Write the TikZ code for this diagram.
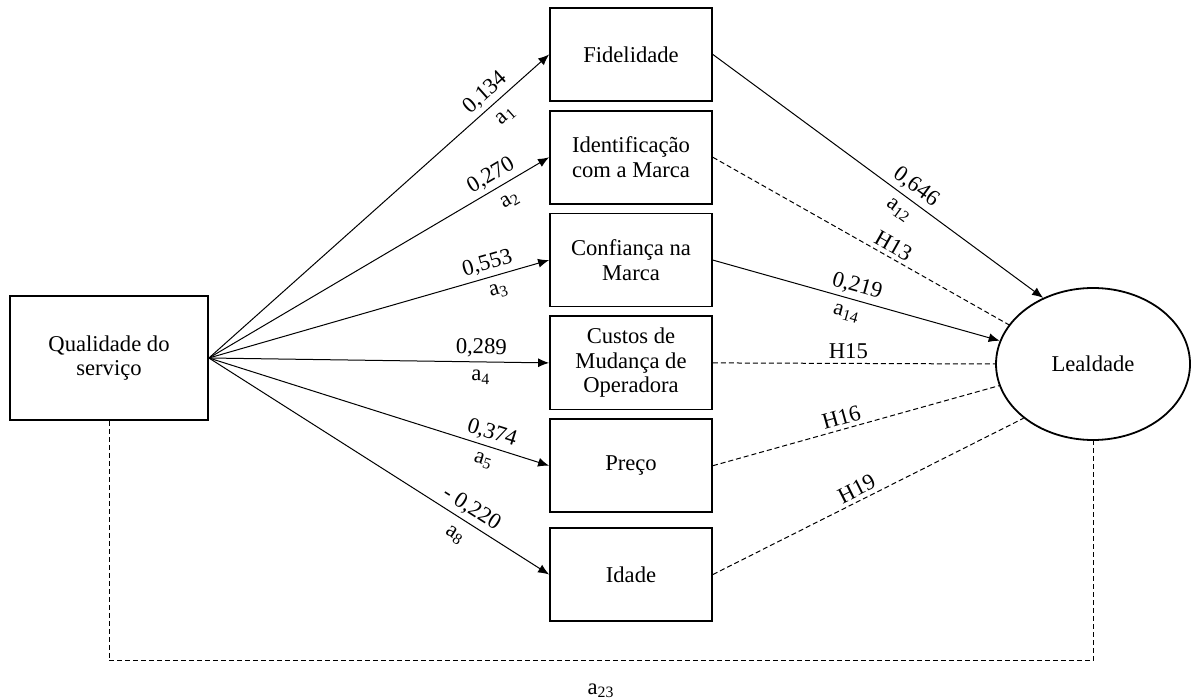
\documentclass[tikz,border=0pt]{standalone}
\usepackage{fontspec}
\setmainfont{Liberation Serif}
\usetikzlibrary{arrows.meta, positioning, shapes.geometric}

\begin{document}
\begin{tikzpicture}[x=0.5pt, y=-0.5pt, node distance={4pt},
		font=\fontsize{11.3}{12.2}\selectfont,
		var/.style = {draw, line width=0.9pt, minimum width=81pt, minimum height=46.5pt, align=center, inner sep=2pt},
		eff/.style = {-{Latex[length=5.5pt, width=4.5pt]}, line width=0.5pt},
		hyp/.style = {dash pattern=on 2.5pt off 1.5pt, line width=0.5pt},
		lab/.style = {sloped, inner sep=1pt}]
		\useasboundingbox (0,0) rectangle (1202,699);
		\node[var, minimum width=99pt, minimum height=62pt] (qual) at (109,358) {Qualidade do\\servi\c{c}o};
		\node[var] (fid) at (631,54.5) {Fidelidade};
		\node[var] (ident) [below=of fid] {Identifica\c{c}\~{a}o\\com a Marca};
		\node[var] (conf) [below=of ident] {Confian\c{c}a na\\Marca};
		\node[var] (cust) [below=of conf] {Custos de\\Mudan\c{c}a de\\Operadora};
		\node[var] (prec) [below=of cust] {Pre\c{c}o};
		\node[var] (idade) [below=7pt of prec] {Idade};
		\node[draw, ellipse, line width=0.9pt, minimum width=97pt, minimum height=76pt] (lea) at (1093,364) {Lealdade};
		\draw[eff] (qual.east) -- node[lab, above=1pt, pos=0.84] {0,134} node[lab, below=4pt, pos=0.84] {a\textsubscript{1}} (fid.west);
		\draw[eff] (qual.east) -- node[lab, above=1pt, pos=0.85] {0,270} node[lab, below=4pt, pos=0.86] {a\textsubscript{2}} (ident.west);
		\draw[eff] (qual.east) -- node[lab, above=1pt, pos=0.83] {0,553} node[lab, below=3pt, pos=0.84] {a\textsubscript{3}} (conf.west);
		\draw[eff] (qual.east) -- node[lab, above=1pt, pos=0.8] {0,289} node[lab, below=3pt, pos=0.8] {a\textsubscript{4}} (cust.west);
		\draw[eff] (qual.east) -- node[lab, above=1pt, pos=0.82] {0,374} node[lab, below=3pt, pos=0.82] {a\textsubscript{5}} (prec.west);
		\draw[eff] (qual.east) -- node[lab, above=1pt, pos=0.75] {- 0,220} node[lab, below=4pt, pos=0.75] {a\textsubscript{8}} (idade.west);
		\draw[eff] (fid.east) -- node[lab, above=1pt, pos=0.59] {0,646} node[lab, below=3pt, pos=0.59] {a\textsubscript{12}} (lea.127);
		\draw[hyp] (ident.east) -- node[lab, above=1pt, pos=0.59] {H13} (lea.155);
		\draw[eff] (conf.east) -- node[lab, above=1pt, pos=0.49] {0,219} node[lab, below=3pt, pos=0.48] {a\textsubscript{14}} (lea.166);
		\draw[hyp] (cust.east) -- node[lab, above=1pt, pos=0.48] {H15} (lea.180);
		\draw[hyp] (prec.east) -- node[lab, above=1pt, pos=0.46] {H16} (lea.193);
		\draw[hyp] (idade.east) -- node[lab, above=1pt, pos=0.48] {H19} (lea.218);
		\draw[hyp] (qual.south) -- ++(0,240) -| node[pos=0.25, below=8pt] {a\textsubscript{23}} (lea.south);
	\end{tikzpicture}
\end{document}
